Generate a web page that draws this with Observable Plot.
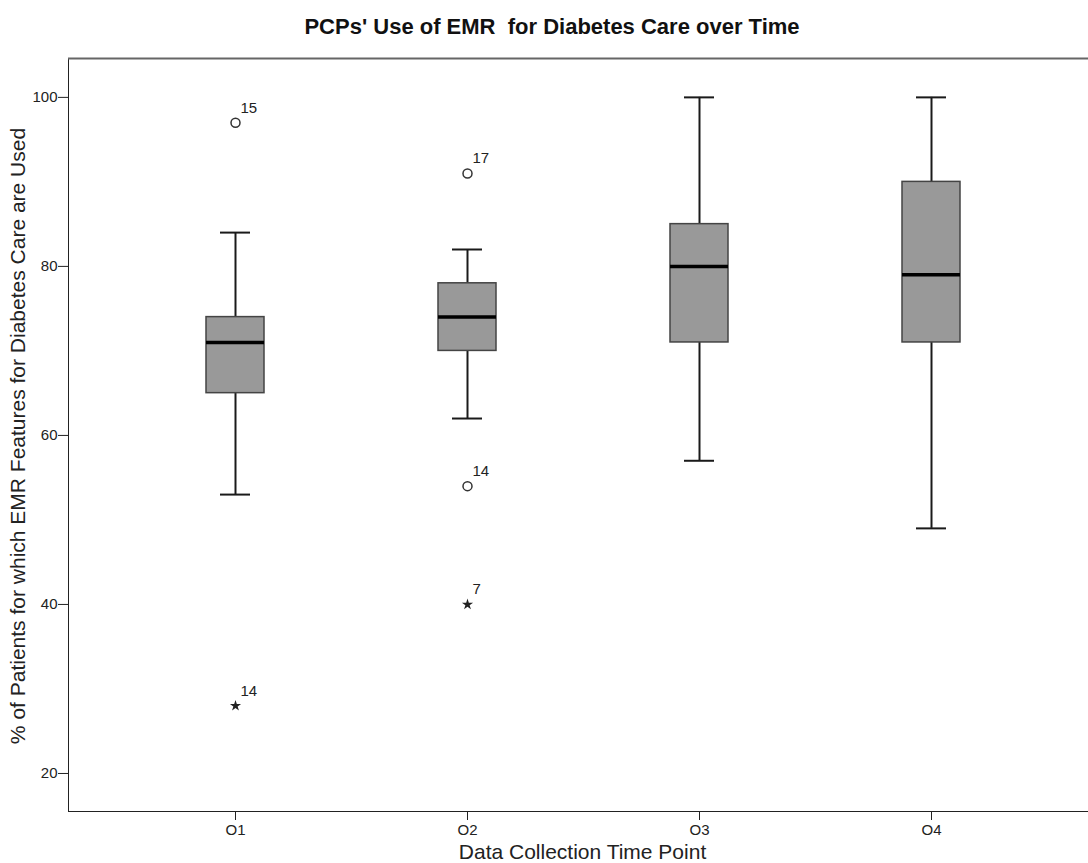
<!DOCTYPE html>
<html><head><meta charset="utf-8">
<script src="https://cdn.jsdelivr.net/npm/d3@7"></script>
<script src="https://cdn.jsdelivr.net/npm/@observablehq/plot@0.6"></script>
<style>
body{margin:0;background:#fff;font-family:"Liberation Sans",Arial,sans-serif;overflow:hidden}
#title{height:50px;line-height:54px;text-align:center;font-weight:bold;font-size:22px;white-space:pre;padding-left:16px;color:#111}
#chart svg{display:block}
</style></head>
<body>
<div id="title">PCPs' Use of EMR  for Diabetes Care over Time</div>
<div id="chart"></div>
<script>
const timePoints = ["O1", "O2", "O3", "O4"];
const whiskerLow = [53, 62, 57, 49];
const q1 = [65, 70, 71, 71];
const median = [71, 74, 80, 79];
const q3 = [74, 78, 85, 90];
const whiskerHigh = [84, 82, 100, 100];
const outlierTime = ["O1", "O1", "O2", "O2", "O2"];
const outlierValue = [97, 28, 91, 54, 40];
const outlierCase = ["15", "14", "17", "14", "7"];
const outlierKind = ["mild", "extreme", "mild", "mild", "extreme"];
const yTicks = [20, 40, 60, 80, 100];
const yDomain = [15.5, 104.6];

const boxes = timePoints.map((t, i) => ({t, lo: whiskerLow[i], q1: q1[i], med: median[i], q3: q3[i], hi: whiskerHigh[i]}));
const outliers = outlierTime.map((t, i) => ({t, v: outlierValue[i], label: outlierCase[i], kind: outlierKind[i]}));
const mild = outliers.filter(d => d.kind === "mild");
const extreme = outliers.filter(d => d.kind === "extreme");

const plot = Plot.plot({
  width: 1088,
  height: 813,
  marginLeft: 68,
  marginRight: 0,
  marginTop: 8,
  marginBottom: 52,
  style: {fontFamily: '"Liberation Sans", Arial, sans-serif', fontSize: "15px", color: "#222", background: "#fff"},
  x: {type: "band", domain: timePoints, range: [119, 1047], padding: 0, tickSize: 9, line: true, label: null, tickPadding: 4},
  y: {domain: yDomain, ticks: yTicks, tickSize: 10, line: true, label: null, tickPadding: 1},
  marks: [
    Plot.ruleY([yDomain[1]], {stroke: "#666", strokeWidth: 2}),
    Plot.ruleX(boxes, {x: "t", y1: "lo", y2: "q1", stroke: "#1a1a1a", strokeWidth: 2}),
    Plot.ruleX(boxes, {x: "t", y1: "q3", y2: "hi", stroke: "#1a1a1a", strokeWidth: 2}),
    Plot.tickY(boxes, {x: "t", y: "lo", stroke: "#1a1a1a", strokeWidth: 2, insetLeft: 101, insetRight: 101}),
    Plot.tickY(boxes, {x: "t", y: "hi", stroke: "#1a1a1a", strokeWidth: 2, insetLeft: 101, insetRight: 101}),
    Plot.barY(boxes, {x: "t", y1: "q1", y2: "q3", fill: "#999999", stroke: "#444", strokeWidth: 1.5, insetLeft: 87, insetRight: 87}),
    Plot.tickY(boxes, {x: "t", y: "med", stroke: "#000", strokeWidth: 3.5, insetLeft: 87, insetRight: 87}),
    Plot.dot(mild, {x: "t", y: "v", r: 4.5, stroke: "#333", strokeWidth: 1.5, fill: "none"}),
    Plot.dot(extreme, {x: "t", y: "v", r: 3.5, symbol: "star", fill: "#222", stroke: "none"}),
    Plot.text(outliers, {x: "t", y: "v", text: "label", dx: 5, dy: -15, textAnchor: "start", fontSize: 15, fill: "#222"}),
    Plot.text(["% of Patients for which EMR Features for Diabetes Care are Used"], {frameAnchor: "left", textAnchor: "middle", lineAnchor: "middle", rotate: -90, dx: -50, dy: 1, fontSize: 21, fill: "#222"}),
    Plot.text(["Data Collection Time Point"], {frameAnchor: "bottom", textAnchor: "middle", lineAnchor: "middle", dy: 41, dx: 4, fontSize: 21, fill: "#222"})
  ]
});
document.getElementById("chart").appendChild(plot);
</script>
</body></html>
